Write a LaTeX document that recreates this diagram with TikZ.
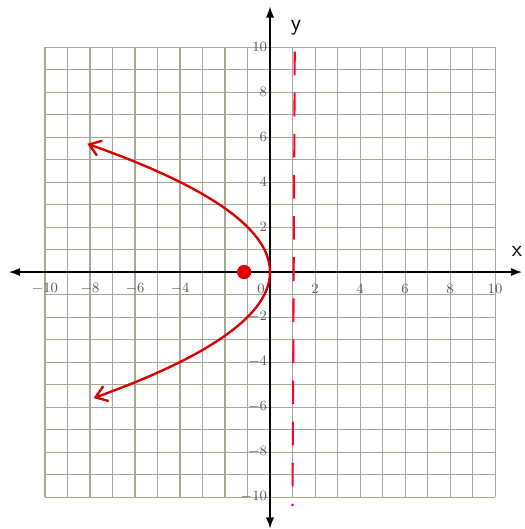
\documentclass[tikz,border=0pt]{standalone}
\usetikzlibrary{arrows.meta}

\begin{document}
\begin{tikzpicture}[
  x=0.5cm,y=0.5cm,
  >=Latex,
  gridline/.style={gray!55!yellow!55!black,opacity=.65,line width=.65pt},
  axis/.style={->,line width=.9pt,black},
  tick/.style={font=\small,text=black!65,inner sep=1pt},
  curve/.style={<->,line width=1.5pt,red!85!black,>={Straight Barb[length=7pt,width=10pt]}},
  directrix/.style={line width=1.3pt,red!80!magenta,dash pattern=on 15pt off 11pt},
  focus/.style={circle,fill=red!90!black,minimum size=9pt,inner sep=0pt}
]
\useasboundingbox (-12,-11.42) rectangle (11.29,12.09);

% grid
\draw[gridline,step=0.5cm] (-10,-10) grid (10,10);

% axes
\coordinate (xl) at (-11.6,0);
\coordinate (xr) at (11.2,0);
\coordinate (yb) at (0,-11.4);
\coordinate (yt) at (0,11.8);
\draw[axis] (0,0) -- (xr);
\draw[axis] (0,0) -- (xl);
\draw[axis] (0,0) -- (yt);
\draw[axis] (0,0) -- (yb);
\node[font=\sffamily\Large] (ylab) at (1.15,10.85) {y};
\node[font=\sffamily\Large,anchor=east,inner sep=1pt] (xlab) at (11.29,0.9) {x};

% tick labels
\foreach \v in {-10,-8,-6,-4,2,4,6,8,10}
  \node[tick] (xt\v) at (\v,-0.75) {$\v$};
\foreach \v in {-10,-8,-6,-4,-2,2,4,6,8,10}
  \node[tick,anchor=east] (yt\v) at (-0.05,\v) {$\v$};
\node[tick] (orig) at (-0.4,-0.75) {$0$};

% directrix x = 1
\coordinate (dtop) at (1.1,9.8);
\coordinate (dbot) at (1,-10.4);
\draw[directrix] (dtop) -- (dbot);

% focus and parabola
\node[focus] (foc) at (-1.15,0) {};
\draw[curve] plot[variable=\t,domain=-5.6:5.7,samples=60,smooth] ({-\t*\t/4},{\t});
\end{tikzpicture}
\end{document}
